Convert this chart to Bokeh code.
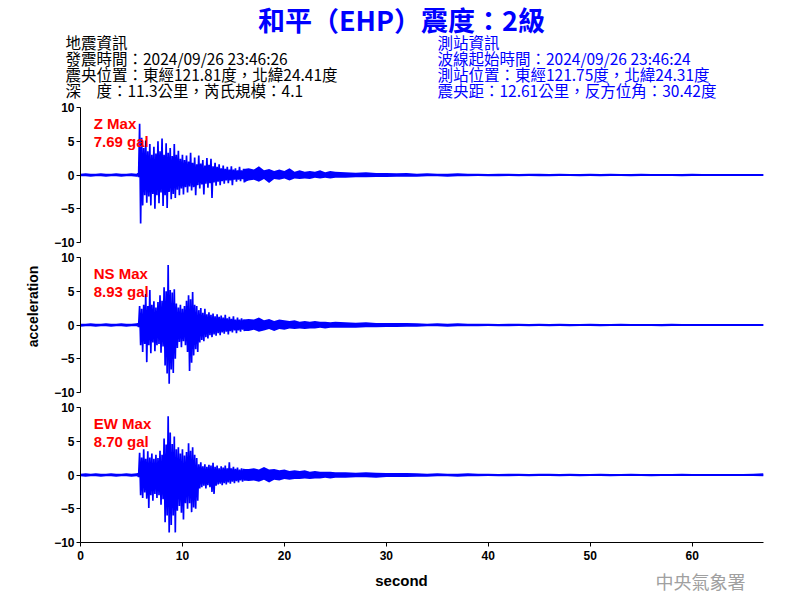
import numpy as np
from bokeh.plotting import figure
from bokeh.layouts import column, row
from bokeh.models import Range1d, FixedTicker
from bokeh.core.properties import value
from bokeh.embed import file_html
from bokeh.resources import INLINE

# ---------------- text content ----------------
title_text = "和平（EHP）震度：2級"
left_lines = ["地震資訊",
              "發震時間：2024/09/26 23:46:26",
              "震央位置：東經121.81度，北緯24.41度",
              "深　度：11.3公里，芮氏規模：4.1"]
right_lines = ["測站資訊",
               "波線起始時間：2024/09/26 23:46:24",
               "測站位置：東經121.75度，北緯24.31度",
               "震央距：12.61公里，反方位角：30.42度"]
channel_names = ["Z Max", "NS Max", "EW Max"]
max_values = ["7.69 gal", "8.93 gal", "8.70 gal"]
y_label = "acceleration"
x_label = "second"
agency = "中央氣象署"
y_ticks = [-10, -5, 0, 5, 10]
x_ticks = [0, 10, 20, 30, 40, 50, 60]

# ---------------- time grid of envelope bins (s) ----------------
t_pre = np.arange(0.0, 5.55, 0.5)                 # 12 bins, before onset
t_act = 5.6 + 0.2 * np.arange(53)                  # 5.6 .. 16.0
t_coda = 16.5 + 0.5 * np.arange(18)                # 16.5 .. 25.0
t_tail = 26.0 + 1.0 * np.arange(42)                # 26 .. 67

# ---------------- Z component envelope (gal) ----------------
z_pre_up = [0.2, 0.25, 0.2, 0.2, 0.25, 0.2, 0.2, 0.25, 0.2, 0.2, 0.25, 0.2]
z_pre_lo = [-0.2, -0.2, -0.25, -0.2, -0.2, -0.25, -0.2, -0.2, -0.25, -0.2, -0.2, -0.25]
z_act_up = [0.3, 7.6, 5.5, 4.0, 5.1, 3.5, 4.6, 3.0, 4.2, 3.2,
            5.0, 3.5, 5.4, 3.0, 4.7, 3.3, 4.0, 2.8, 4.6, 3.0,
            3.6, 2.4, 3.0, 2.2, 2.9, 2.0, 3.3, 1.8, 2.6, 1.6,
            2.9, 1.7, 2.2, 1.4, 2.5, 1.5, 2.4, 1.3, 1.8, 1.2,
            1.6, 1.0, 1.4, 0.9, 1.2, 0.8, 1.3, 0.8, 1.0, 0.7,
            1.2, 0.7, 0.9]
z_act_lo = [-0.3, -7.2, -4.5, -3.0, -4.1, -3.2, -4.5, -2.8, -5.0, -3.0,
            -4.2, -2.6, -4.6, -3.0, -4.9, -2.5, -3.6, -2.8, -3.4, -2.2,
            -3.0, -2.0, -2.9, -1.8, -2.6, -1.7, -2.3, -1.8, -3.0, -1.5,
            -2.0, -1.4, -2.9, -1.3, -1.9, -1.2, -3.4, -1.1, -1.6, -1.0,
            -1.5, -0.9, -1.3, -0.8, -1.2, -0.8, -1.5, -0.7, -1.0, -0.7,
            -0.9, -0.6, -1.1]
z_coda_up = [1.0, 0.8, 1.3, 0.7, 0.9, 0.6, 0.8, 0.6, 1.0, 0.5, 0.7, 0.5, 0.6, 0.5, 0.7, 0.4, 0.6, 0.5]
z_coda_lo = [-0.8, -0.7, -1.0, -0.6, -1.2, -0.6, -0.7, -0.5, -0.8, -0.5, -0.6, -0.5, -0.6, -0.4, -0.5, -0.4, -0.5, -0.4]
z_tail_up = [0.4, 0.35, 0.4, 0.3, 0.3, 0.25,
             0.3, 0.2, 0.25, 0.2, 0.2, 0.25,
             0.2, 0.2, 0.15, 0.2, 0.2, 0.15,
             0.2, 0.2, 0.15, 0.2, 0.15, 0.15,
             0.2, 0.15, 0.2, 0.15, 0.15, 0.2,
             0.15, 0.15, 0.15, 0.15, 0.2, 0.15,
             0.15, 0.15, 0.15, 0.15, 0.15, 0.15]
z_tail_lo = [-0.4, -0.35, -0.35, -0.3, -0.3, -0.25,
             -0.25, -0.25, -0.2, -0.2, -0.25, -0.2,
             -0.2, -0.15, -0.2, -0.2, -0.15, -0.2,
             -0.15, -0.2, -0.2, -0.15, -0.15, -0.2,
             -0.15, -0.2, -0.15, -0.15, -0.2, -0.15,
             -0.15, -0.15, -0.15, -0.2, -0.15, -0.15,
             -0.15, -0.15, -0.15, -0.15, -0.15, -0.15]

# ---------------- NS component envelope (gal) ----------------
ns_pre_up = [0.2, 0.2, 0.25, 0.2, 0.2, 0.25, 0.2, 0.2, 0.25, 0.2, 0.2, 0.25]
ns_pre_lo = [-0.25, -0.2, -0.2, -0.25, -0.2, -0.2, -0.25, -0.2, -0.2, -0.25, -0.2, -0.2]
ns_act_up = [0.3, 2.8, 2.4, 3.0, 4.6, 2.8, 5.2, 3.0, 3.5, 2.6,
             3.4, 4.4, 3.6, 5.6, 5.0, 8.9, 5.2, 4.8, 5.3, 3.2,
             2.6, 3.0, 2.4, 2.8, 3.6, 4.4, 3.8, 4.9, 3.0, 2.8,
             2.2, 2.5, 1.8, 2.4, 1.6, 1.9, 1.5, 1.7, 1.3, 1.6,
             1.2, 1.4, 1.1, 1.5, 1.0, 1.2, 0.9, 1.3, 0.8, 1.1,
             0.8, 1.0, 0.8]
ns_act_lo = [-0.3, -3.0, -4.0, -2.8, -5.5, -3.0, -4.2, -2.6, -3.9, -3.0,
             -2.8, -4.1, -3.2, -6.0, -7.2, -8.7, -6.6, -7.1, -5.0, -3.4,
             -2.5, -3.3, -2.4, -3.0, -4.0, -6.8, -5.6, -4.5, -3.6, -4.0,
             -2.6, -2.2, -2.4, -1.8, -2.0, -1.5, -1.8, -1.4, -1.6, -1.2,
             -1.5, -1.1, -1.3, -1.0, -1.4, -0.9, -1.1, -0.8, -1.2, -0.8,
             -1.0, -0.7, -0.9]
ns_coda_up = [0.9, 0.8, 1.1, 0.7, 0.9, 0.6, 0.8, 0.7, 0.6, 0.7, 0.5, 0.6, 0.5, 0.6, 0.5, 0.5, 0.4, 0.5]
ns_coda_lo = [-0.9, -0.7, -1.0, -0.8, -0.6, -0.9, -0.6, -0.7, -0.5, -0.6, -0.5, -0.6, -0.5, -0.5, -0.4, -0.5, -0.4, -0.4]
ns_tail_up = [0.4, 0.35, 0.4, 0.3, 0.3, 0.3,
              0.3, 0.25, 0.2, 0.25, 0.2, 0.25,
              0.2, 0.2, 0.2, 0.15, 0.2, 0.2,
              0.15, 0.2, 0.15, 0.2, 0.15, 0.15,
              0.2, 0.15, 0.15, 0.2, 0.15, 0.15,
              0.15, 0.15, 0.2, 0.15, 0.15, 0.15,
              0.15, 0.15, 0.15, 0.15, 0.15, 0.15]
ns_tail_lo = [-0.4, -0.4, -0.35, -0.35, -0.3, -0.3,
              -0.25, -0.25, -0.2, -0.2, -0.25, -0.2,
              -0.2, -0.2, -0.15, -0.2, -0.2, -0.15,
              -0.2, -0.15, -0.2, -0.15, -0.2, -0.15,
              -0.15, -0.2, -0.15, -0.15, -0.15, -0.15,
              -0.15, -0.2, -0.15, -0.15, -0.15, -0.15,
              -0.15, -0.15, -0.15, -0.15, -0.15, -0.15]

# ---------------- EW component envelope (gal) ----------------
ew_pre_up = [0.2, 0.25, 0.2, 0.25, 0.2, 0.2, 0.25, 0.2, 0.2, 0.25, 0.2, 0.25]
ew_pre_lo = [-0.2, -0.25, -0.2, -0.2, -0.25, -0.2, -0.2, -0.25, -0.2, -0.2, -0.25, -0.2]
ew_act_up = [0.3, 3.3, 2.6, 3.8, 2.4, 3.5, 2.6, 3.2, 2.4, 3.0,
             2.5, 3.6, 3.0, 5.4, 4.5, 8.7, 6.3, 4.6, 5.7, 3.8,
             4.1, 3.2, 3.8, 2.9, 3.4, 4.7, 3.6, 4.1, 3.0, 2.5,
             1.6, 1.9, 1.3, 1.6, 1.2, 1.5, 1.4, 1.8, 1.2, 1.4,
             1.0, 1.3, 1.1, 1.4, 1.0, 1.9, 1.0, 1.2, 0.9, 1.1,
             0.8, 1.0, 0.9]
ew_act_lo = [-0.3, -3.0, -3.4, -2.6, -3.5, -4.9, -3.0, -3.8, -2.8, -3.4,
             -3.0, -4.4, -3.6, -7.0, -6.0, -8.5, -7.4, -6.0, -8.5, -5.3,
             -4.6, -5.6, -6.6, -4.2, -5.0, -4.2, -5.5, -4.8, -5.0, -3.8,
             -2.0, -1.8, -1.6, -2.0, -1.5, -1.8, -2.5, -2.8, -1.6, -1.4,
             -1.3, -1.5, -1.2, -1.4, -1.1, -1.3, -1.0, -1.2, -0.9, -1.1,
             -0.8, -1.0, -0.8]
ew_coda_up = [0.9, 1.0, 0.8, 1.2, 0.8, 0.9, 0.7, 0.8, 0.6, 0.7, 0.6, 0.7, 0.5, 0.6, 0.5, 0.5, 0.5, 0.4]
ew_coda_lo = [-0.9, -0.8, -1.0, -0.7, -1.1, -0.7, -0.8, -0.6, -0.7, -0.6, -0.6, -0.5, -0.6, -0.5, -0.5, -0.4, -0.5, -0.4]
ew_tail_up = [0.4, 0.35, 0.4, 0.35, 0.3, 0.3,
              0.3, 0.25, 0.2, 0.25, 0.2, 0.2,
              0.25, 0.2, 0.2, 0.15, 0.2, 0.2,
              0.15, 0.2, 0.2, 0.15, 0.2, 0.15,
              0.15, 0.2, 0.15, 0.15, 0.2, 0.15,
              0.15, 0.15, 0.15, 0.2, 0.15, 0.15,
              0.15, 0.15, 0.15, 0.15, 0.2, 0.25]
ew_tail_lo = [-0.4, -0.35, -0.35, -0.4, -0.3, -0.3,
              -0.3, -0.25, -0.25, -0.2, -0.2, -0.25,
              -0.2, -0.2, -0.15, -0.2, -0.2, -0.15,
              -0.2, -0.15, -0.15, -0.2, -0.15, -0.2,
              -0.15, -0.15, -0.2, -0.15, -0.15, -0.15,
              -0.2, -0.15, -0.15, -0.15, -0.15, -0.15,
              -0.15, -0.15, -0.15, -0.15, -0.15, -0.2]

channels = [
    (z_pre_up, z_pre_lo, z_act_up, z_act_lo, z_coda_up, z_coda_lo, z_tail_up, z_tail_lo),
    (ns_pre_up, ns_pre_lo, ns_act_up, ns_act_lo, ns_coda_up, ns_coda_lo, ns_tail_up, ns_tail_lo),
    (ew_pre_up, ew_pre_lo, ew_act_up, ew_act_lo, ew_coda_up, ew_coda_lo, ew_tail_up, ew_tail_lo),
]

CJK = "Noto Sans CJK TC"
LAT = "Liberation Sans"
BLUE = "#0000ff"


def bare(fig):
    fig.outline_line_color = None
    fig.grid.visible = False
    try:
        fig.frame_align = False
    except Exception:
        pass
    return fig


def zigzag(t, up, lo, half):
    xs, ys = [], []
    for ti, u, l in zip(t, up, lo):
        xs += [ti, ti + half]
        ys += [u, l]
    return xs, ys


# ---------------- header (page coords: x, 99 - y) ----------------
hdr = bare(figure(width=792, height=99, x_range=Range1d(0, 792), y_range=Range1d(0, 99),
                  output_backend="svg", toolbar_location=None, min_border=0,
                  x_axis_location=None, y_axis_location=None))
hdr.text(x=[401], y=[99 - 19], text=[title_text], text_font=value(CJK), text_font_style="bold",
         text_font_size="27px", text_color=BLUE, text_align="center", text_baseline="middle")
line_y = [99 - 41.5, 99 - 57.5, 99 - 73.5, 99 - 89]
hdr.text(x=[65] * 4, y=line_y, text=left_lines, text_font=value(CJK),
         text_font_size="15.5px", text_color="black", text_align="left", text_baseline="middle")
hdr.text(x=[437] * 4, y=line_y, text=right_lines, text_font=value(CJK),
         text_font_size="15.5px", text_color=BLUE, text_align="left", text_baseline="middle")

# ---------------- left strip with y label ----------------
strip = bare(figure(width=50, height=468, x_range=Range1d(0, 50), y_range=Range1d(0, 468),
                    output_backend="svg", toolbar_location=None, min_border=0,
                    x_axis_location=None, y_axis_location=None))
strip.text(x=[32], y=[468 - (306 - 99)], text=[y_label], text_font=value(LAT),
           text_font_style="bold", text_font_size="14px", text_color="black",
           angle=np.pi / 2, text_align="center", text_baseline="middle")

# ---------------- panels ----------------
panels = []
for i in range(3):
    last = (i == 2)
    pu, pl, au, al, cu, cl, tu, tl = channels[i]
    p = figure(width=742, height=168 if last else 150,
               x_range=Range1d(0, 67), y_range=Range1d(-10, 10),
               output_backend="svg", toolbar_location=None,
               x_axis_location="below" if last else None, y_axis_location="left",
               min_border_left=30, min_border_right=29, min_border_top=8,
               min_border_bottom=25 if last else 7)
    p.outline_line_color = None
    p.grid.visible = False
    # baseline
    p.line(x=[0, 67], y=[0, 0], line_color=BLUE, line_width=1.5)
    # quiet sections as a noise band
    p.varea(x=list(t_pre) + [t_act[0]], y1=pl + [al[0]], y2=pu + [au[0]], fill_color=BLUE)
    p.varea(x=[t_act[-1]] + list(t_coda) + list(t_tail),
            y1=[al[-1]] + cl + tl, y2=[au[-1]] + cu + tu, fill_color=BLUE)
    # strong motion as a dense trace
    xa_, ya_ = zigzag(t_act, au, al, 0.1)
    p.line(x=xa_, y=ya_, line_color=BLUE, line_width=1.7)
    p.text(x=[1.3, 1.3], y=[7.6, 4.95], text=[channel_names[i], max_values[i]],
           text_font=value(LAT), text_font_style="bold", text_font_size="15px",
           text_color="#ff0000", text_align="left", text_baseline="alphabetic")
    ya = p.yaxis[0]
    ya.ticker = FixedTicker(ticks=y_ticks)
    ya.major_tick_in = 0
    ya.major_tick_out = 4
    ya.minor_tick_out = 0
    ya.minor_tick_in = 0
    ya.major_label_standoff = 2
    ya.major_label_text_font = LAT
    ya.major_label_text_font_style = "bold"
    ya.major_label_text_font_size = "12px"
    ya.major_label_text_color = "black"
    ya.axis_line_color = "black"
    if last:
        xa = p.xaxis[0]
        xa.ticker = FixedTicker(ticks=x_ticks)
        xa.major_tick_in = 0
        xa.major_tick_out = 4
        xa.minor_tick_out = 0
        xa.minor_tick_in = 0
        xa.major_label_standoff = 4
        xa.major_label_text_font = LAT
        xa.major_label_text_font_style = "bold"
        xa.major_label_text_font_size = "12px"
        xa.major_label_text_color = "black"
    panels.append(p)

# ---------------- footer (page coords: x, 592 - y) ----------------
footer = bare(figure(width=792, height=25, x_range=Range1d(0, 792), y_range=Range1d(0, 25),
                     output_backend="svg", toolbar_location=None, min_border=0,
                     x_axis_location=None, y_axis_location=None))
footer.text(x=[401], y=[592 - 580], text=[x_label], text_font=value(LAT), text_font_style="bold",
            text_font_size="15px", text_color="black", text_align="center", text_baseline="middle")
footer.text(x=[655], y=[592 - 580], text=[agency], text_font=value(CJK),
            text_font_size="18px", text_color="#a0a0a0", text_align="left", text_baseline="middle")

layout = column(hdr, row(strip, column(*panels, spacing=0), spacing=0), footer, spacing=0)
open("out.html", "w").write(file_html(layout, INLINE))
